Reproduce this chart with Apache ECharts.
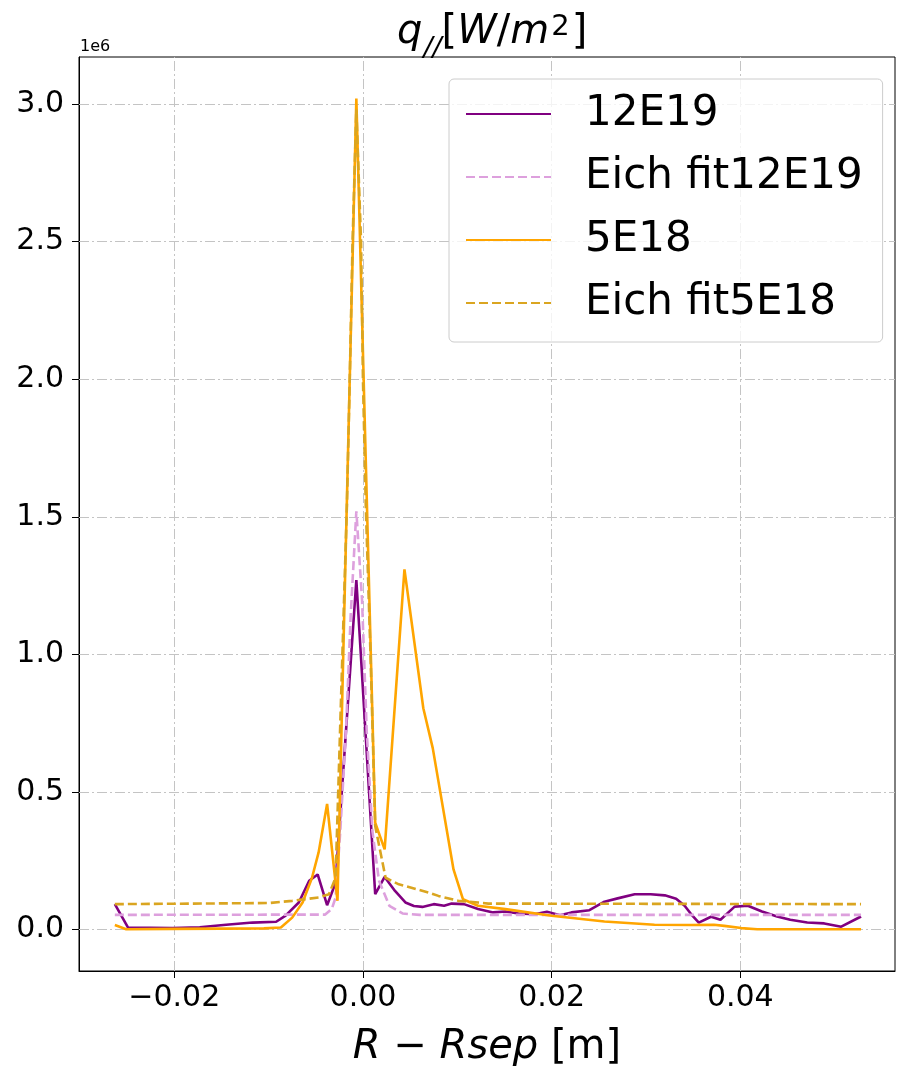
<!DOCTYPE html>
<html>
<head>
<meta charset="utf-8">
<title>q// profile</title>
<script src="https://cdn.jsdelivr.net/npm/echarts@6/dist/echarts.min.js"></script>
<style>
  html, body { margin: 0; padding: 0; background: #ffffff; }
  #chart { width: 897px; height: 1073px; }
</style>
</head>
<body>
<div id="chart"></div>
<script>
// Parallel heat flux profiles vs. distance from separatrix (values in 1e6 W/m^2)

// 12E19 measured profile
const x12E19 = [-0.0263, -0.0249, -0.0202, -0.0173, -0.0145, -0.0117, -0.0092, -0.0082, -0.0068, -0.0057,
  -0.0048, -0.0038, -0.0029, -0.0018, -0.0007, 0.0003, 0.0013, 0.0023, 0.0034, 0.0045,
  0.0054, 0.0063, 0.0075, 0.0086, 0.0094, 0.0107, 0.0122, 0.0138, 0.0151, 0.0165,
  0.0182, 0.0195, 0.0209, 0.0221, 0.0240, 0.0256, 0.0270, 0.0288, 0.0305, 0.0320,
  0.0332, 0.0341, 0.0348, 0.0356, 0.0369, 0.0379, 0.0394, 0.0408, 0.0423, 0.0439,
  0.0453, 0.0471, 0.0489, 0.0507, 0.0528];
const q12E19 = [0.092, 0.007, 0.005, 0.008, 0.017, 0.025, 0.028, 0.050, 0.098, 0.177,
  0.200, 0.088, 0.170, 0.720, 1.270, 0.700, 0.128, 0.191, 0.140, 0.098,
  0.085, 0.082, 0.092, 0.086, 0.094, 0.092, 0.074, 0.062, 0.065, 0.058,
  0.055, 0.064, 0.052, 0.062, 0.070, 0.101, 0.113, 0.128, 0.128, 0.124,
  0.112, 0.086, 0.055, 0.025, 0.046, 0.035, 0.083, 0.086, 0.065, 0.047,
  0.035, 0.025, 0.022, 0.010, 0.047];

// Eich fit of the 12E19 profile
const xFit12E19 = [-0.0263, -0.0040, -0.0033, -0.0029, -0.0024, -0.0018, -0.0013, -0.0007, -0.0001, 0.0004,
  0.0010, 0.0017, 0.0028, 0.0042, 0.0060, 0.0528];
const qFit12E19 = [0.053, 0.054, 0.075, 0.116, 0.358, 0.720, 1.140, 1.520, 1.200, 0.720,
  0.358, 0.177, 0.086, 0.058, 0.053, 0.053];

// 5E18 measured profile
const x5E18 = [-0.0263, -0.0251, -0.0200, -0.0150, -0.0105, -0.0087, -0.0075, -0.0064, -0.0054, -0.0047,
  -0.0038, -0.0027, -0.0007, 0.0013, 0.0023, 0.0044, 0.0064, 0.0074, 0.0096,
  0.0106, 0.0122, 0.0151, 0.0200, 0.0256, 0.0309, 0.0348, 0.0372, 0.0383, 0.0401,
  0.0418, 0.0528];
const q5E18 = [0.016, 0.001, 0.002, 0.003, 0.004, 0.007, 0.043, 0.098, 0.188, 0.280,
  0.456, 0.104, 3.020, 0.388, 0.291, 1.309, 0.804, 0.659, 0.218,
  0.110, 0.086, 0.074, 0.050, 0.029, 0.017, 0.016, 0.017, 0.013, 0.005,
  0.001, 0.001];

// Eich fit of the 5E18 profile
const xFit5E18 = [-0.0263, -0.0100, -0.0075, -0.0047, -0.0036, -0.0029, -0.0017, -0.0014, -0.0011, -0.0007,
  -0.0002, 0.0000, 0.0003, 0.0008, 0.0013, 0.0019, 0.0024, 0.0038, 0.0070, 0.0080,
  0.0101, 0.0122, 0.0133, 0.0528];
const qFit5E18 = [0.092, 0.096, 0.104, 0.116, 0.128, 0.188, 1.540, 2.000, 2.500, 2.980,
  2.500, 2.000, 1.540, 1.000, 0.376, 0.273, 0.188, 0.164, 0.134, 0.122,
  0.104, 0.098, 0.094, 0.092];

// Axis ticks
const xTicks = [-0.02, 0.00, 0.02, 0.04];
const yTicks = [0.0, 0.5, 1.0, 1.5, 2.0, 2.5, 3.0];

const FONT = 'DejaVu Sans';
const LINE_W = 2.6;
const DASH = [9, 4];
const zip = (xs, ys) => xs.map((x, i) => [x, ys[i]]);

const gridStyle = { color: '#c4c4c4', width: 1, type: [10, 3, 2, 3] };

const chart = echarts.init(document.getElementById('chart'), null, { renderer: 'canvas' });

const mathText = (size, extra) => Object.assign({
  fontFamily: FONT, fontSize: size, fontWeight: 'normal', color: '#000', verticalAlign: 'top'
}, extra);

chart.setOption({
  backgroundColor: '#ffffff',
  animation: false,
  textStyle: { fontFamily: FONT },
  title: {
    text: '{i|q}{s|//}{r|[}{i|W}{r|/}{i|m}{p|2}{r|]}',
    left: 392,
    top: 8,
    textStyle: {
      fontWeight: 'normal',
      rich: {
        i: mathText(40, { fontStyle: 'italic', lineHeight: 46 }),
        r: mathText(40, { lineHeight: 46 }),
        s: mathText(27, { fontStyle: 'italic', lineHeight: 27, padding: [22, 0, 0, 1] }),
        p: mathText(29, { lineHeight: 29, padding: [0, 2, 17, 2] })
      }
    }
  },
  graphic: [{
    type: 'text',
    left: 80,
    top: 39,
    style: { text: '1e6', fontFamily: FONT, fontSize: 16, fill: '#000' }
  }],
  legend: {
    orient: 'vertical',
    left: 449,
    top: 79,
    padding: [10, 20, 14, 16],
    itemGap: 13,
    itemWidth: 85,
    itemHeight: 14,
    backgroundColor: 'rgba(255,255,255,0.8)',
    borderColor: '#cccccc',
    borderWidth: 1,
    borderRadius: 5,
    itemStyle: { opacity: 0 },
    textStyle: { fontFamily: FONT, fontSize: 42, lineHeight: 50, color: '#000', padding: [0, 0, 0, 29] },
    data: ['12E19', 'Eich fit12E19', '5E18', 'Eich fit5E18']
  },
  grid: {
    left: 79, right: 2, top: 57, bottom: 100,
    show: true, borderColor: '#000', borderWidth: 1, backgroundColor: 'transparent'
  },
  xAxis: {
    type: 'value',
    min: -0.0301,
    max: 0.0564,
    name: '{i|R}{r| − }{i|Rsep}{r| [m]}',
    nameLocation: 'middle',
    nameGap: 57,
    nameTextStyle: {
      rich: {
        i: { fontFamily: FONT, fontStyle: 'italic', fontSize: 40, color: '#000' },
        r: { fontFamily: FONT, fontSize: 40, color: '#000' }
      }
    },
    axisLine: { show: true, onZero: false, lineStyle: { color: '#000', width: 1 } },
    axisTick: { show: true, inside: false, length: 7, customValues: xTicks, lineStyle: { color: '#000' } },
    axisLabel: {
      customValues: xTicks,
      margin: 12,
      fontSize: 30,
      fontFamily: FONT,
      color: '#000',
      formatter: v => (v < 0 ? '−' : '') + Math.abs(v).toFixed(2)
    },
    splitLine: { show: false }
  },
  yAxis: {
    type: 'value',
    min: -0.151,
    max: 3.171,
    axisLine: { show: true, onZero: false, lineStyle: { color: '#000', width: 1 } },
    axisTick: { show: true, inside: false, length: 7, customValues: yTicks, lineStyle: { color: '#000' } },
    axisLabel: {
      customValues: yTicks,
      margin: 15,
      fontSize: 30,
      fontFamily: FONT,
      color: '#000',
      formatter: v => v.toFixed(1)
    },
    splitLine: { show: false }
  },
  series: [
    {
      name: '12E19', type: 'line', z: 3, symbol: 'none', data: zip(x12E19, q12E19),
      lineStyle: { color: '#800080', width: LINE_W }, itemStyle: { color: '#800080' },
      markLine: {
        silent: true, symbol: 'none', z: 1, animation: false,
        label: { show: false },
        lineStyle: gridStyle,
        data: xTicks.map(v => ({ xAxis: v })).concat(yTicks.map(v => ({ yAxis: v })))
      }
    },
    {
      name: 'Eich fit12E19', type: 'line', z: 3, symbol: 'none', data: zip(xFit12E19, qFit12E19),
      lineStyle: { color: '#dda0dd', width: LINE_W, type: DASH }, itemStyle: { color: '#dda0dd' }
    },
    {
      name: '5E18', type: 'line', z: 3, symbol: 'none', data: zip(x5E18, q5E18),
      lineStyle: { color: '#ffa500', width: LINE_W }, itemStyle: { color: '#ffa500' }
    },
    {
      name: 'Eich fit5E18', type: 'line', z: 3, symbol: 'none', data: zip(xFit5E18, qFit5E18),
      lineStyle: { color: '#daa520', width: LINE_W, type: DASH }, itemStyle: { color: '#daa520' }
    }
  ]
});
</script>
</body>
</html>
